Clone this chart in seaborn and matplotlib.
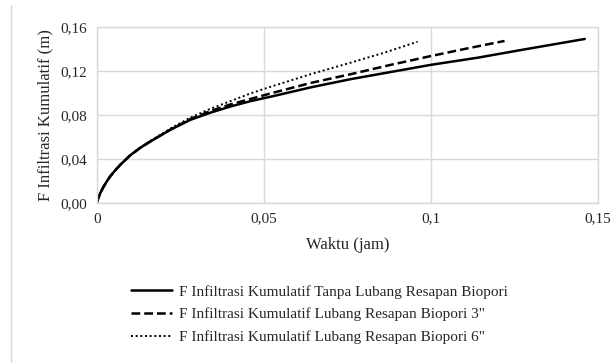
import numpy as np
import matplotlib
matplotlib.use("Agg")
import matplotlib.pyplot as plt
from matplotlib.ticker import FuncFormatter, MultipleLocator
from matplotlib.lines import Line2D
import seaborn as sns

# Data (waktu in jam, F in m)
t_tanpa = [0, 0.0005, 0.001, 0.002, 0.003, 0.004, 0.0055, 0.007, 0.010, 0.013, 0.016, 0.022,
           0.028, 0.034, 0.040, 0.046, 0.052, 0.064, 0.076, 0.088, 0.100, 0.114, 0.127, 0.146]
f_tanpa = [0, 0.0045, 0.0085, 0.0145, 0.0195, 0.024, 0.0295, 0.0345, 0.0432, 0.050, 0.0558,
           0.0664, 0.0755, 0.082, 0.0876, 0.0925, 0.0965, 0.105, 0.1125, 0.119, 0.1255,
           0.132, 0.139, 0.149]

t_3 = [0, 0.0005, 0.001, 0.002, 0.003, 0.004, 0.0055, 0.007, 0.010, 0.013, 0.016, 0.022,
       0.028, 0.034, 0.040, 0.046, 0.052, 0.064, 0.076, 0.088, 0.100, 0.111, 0.122]
f_3 = [0, 0.0045, 0.0085, 0.0145, 0.0195, 0.024, 0.0295, 0.0345, 0.0432, 0.050, 0.0558,
       0.0666, 0.0762, 0.0835, 0.0895, 0.0945, 0.0995, 0.109, 0.117, 0.1255, 0.1335,
       0.1405, 0.1472]

t_6 = [0, 0.0005, 0.001, 0.002, 0.003, 0.004, 0.0055, 0.007, 0.010, 0.013, 0.016, 0.022,
       0.028, 0.034, 0.040, 0.046, 0.052, 0.064, 0.076, 0.086, 0.096]
f_6 = [0, 0.0045, 0.0085, 0.0145, 0.0195, 0.024, 0.0295, 0.0345, 0.0434, 0.0503, 0.0562,
       0.0675, 0.0775, 0.0855, 0.0925, 0.0995, 0.1055, 0.117, 0.1275, 0.1365, 0.1465]

labels = ["F Infiltrasi Kumulatif Tanpa Lubang Resapan Biopori",
          "F Infiltrasi Kumulatif Lubang Resapan Biopori 3\"",
          "F Infiltrasi Kumulatif Lubang Resapan Biopori 6\""]

sns.set_style("whitegrid")
plt.rcParams['font.family'] = ['Liberation Serif', 'DejaVu Serif']
plt.rcParams['font.size'] = 11

fig = plt.figure(figsize=(6.16, 3.63), dpi=100)
ax = fig.add_axes([0.157, 0.441, 0.814, 0.485])

sns.lineplot(x=t_tanpa, y=f_tanpa, ax=ax, color="black", lw=1.8, sort=False,
             label=labels[0])
sns.lineplot(x=t_3, y=f_3, ax=ax, color="black", lw=1.8, sort=False,
             linestyle=(0, (3.5, 1.6)), label=labels[1])
sns.lineplot(x=t_6, y=f_6, ax=ax, color="black", lw=1.4, sort=False,
             linestyle=(0, (1, 1.4)), label=labels[2])

ax.set_xlim(0, 0.15)
ax.set_ylim(0, 0.16)
ax.xaxis.set_major_locator(MultipleLocator(0.05))
ax.yaxis.set_major_locator(MultipleLocator(0.04))
ax.xaxis.set_major_formatter(FuncFormatter(lambda v, p: ("%g" % round(v, 4)).replace(".", ",")))
ax.yaxis.set_major_formatter(FuncFormatter(lambda v, p: ("%.2f" % v).replace(".", ",")))
ax.grid(True, color="#d9d9d9", lw=1)
for s in ax.spines.values():
    s.set_color("#d9d9d9")
    s.set_linewidth(1)
ax.tick_params(length=0, labelsize=11, colors="#262626")
ax.tick_params(axis="x", pad=7)
ax.tick_params(axis="y", pad=7)

ax.set_xlabel("Waktu (jam)", fontsize=12, labelpad=8)
ax.set_ylabel("F Infiltrasi Kumulatif (m)", fontsize=12, labelpad=5)

h, l = ax.get_legend_handles_labels()
ax.get_legend().remove()
fig.legend(h, l, loc="upper left", bbox_to_anchor=(0.213, 0.215), frameon=False,
           fontsize=11, handlelength=2.7, handletextpad=0.4, labelspacing=0.58,
           borderaxespad=0, borderpad=0)

fig.add_artist(Line2D([0.018, 0.018], [0.0, 0.985], transform=fig.transFigure,
                      color="#d9d9d9", lw=1))

fig.savefig("out.png", dpi=100)
